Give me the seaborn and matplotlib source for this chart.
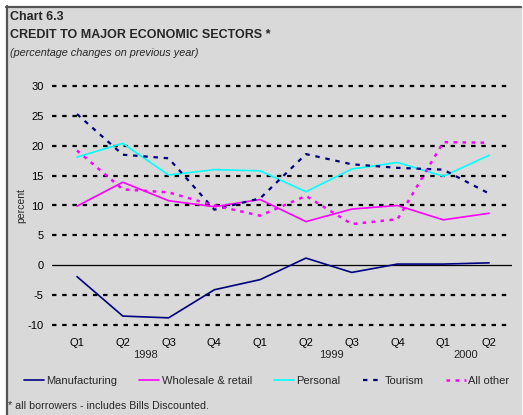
import matplotlib
matplotlib.use("Agg")
import matplotlib.pyplot as plt
from matplotlib.patches import Rectangle
from matplotlib.lines import Line2D
import seaborn as sns
import pandas as pd

# Quarterly growth of credit by sector (% change on previous year)
quarters = ["Q1", "Q2", "Q3", "Q4", "Q1", "Q2", "Q3", "Q4", "Q1", "Q2"]
years = ["1998", "1999", "2000"]
year_pos = [1.5, 5.55, 8.5]

manufacturing = [-1.9, -8.5, -8.8, -4.1, -2.4, 1.2, -1.2, 0.2, 0.2, 0.4]
wholesale = [9.9, 13.9, 10.8, 9.8, 11.0, 7.3, 9.4, 10.0, 7.6, 8.7]
personal = [18.1, 20.4, 15.1, 16.0, 15.8, 12.3, 16.1, 17.2, 14.9, 18.4]
tourism = [25.3, 18.5, 17.9, 9.3, 11.2, 18.6, 16.9, 16.3, 16.0, 12.0]
all_other = [19.2, 12.7, 12.2, 10.0, 8.3, 11.6, 6.9, 7.7, 20.6, 20.5]

series = {
    "Manufacturing": manufacturing,
    "Wholesale & retail": wholesale,
    "Personal": personal,
    "Tourism": tourism,
    "All other": all_other,
}
styles = {
    "Manufacturing": dict(color="#000080", linestyle="-", linewidth=1.2),
    "Wholesale & retail": dict(color="#ff00ff", linestyle="-", linewidth=1.2),
    "Personal": dict(color="#00ffff", linestyle="-", linewidth=1.2),
    "Tourism": dict(color="#000080", linestyle=(0, (2.0, 2.6)), linewidth=1.6),
    "All other": dict(color="#ff00ff", linestyle=(0, (1.4, 2.2)), linewidth=1.8),
}

rows = []
for name, vals in series.items():
    for i, v in enumerate(vals):
        rows.append({"idx": i, "value": v, "sector": name})
df = pd.DataFrame(rows)

sns.set_theme(style="white")
plt.rcParams["font.family"] = ["Liberation Sans", "DejaVu Sans"]

W, H = 523, 415
fig = plt.figure(figsize=(W / 100, H / 100), dpi=100)
fig.patch.set_facecolor("white")

# grey panel with a dark top/left rule
fig.patches.append(Rectangle((7 / W, 0), (W - 7) / W, (H - 7) / H,
                             transform=fig.transFigure, facecolor="#d9d9d9",
                             edgecolor="none", zorder=-10))
fig.lines.append(Line2D([6 / W, 521 / W], [1 - 7 / H, 1 - 7 / H],
                        transform=fig.transFigure, color="#555555", linewidth=1.6))
fig.lines.append(Line2D([7 / W, 7 / W], [0, 1 - 6 / H],
                        transform=fig.transFigure, color="#555555", linewidth=1.6))
fig.lines.append(Line2D([521.5 / W, 521.5 / W], [0, 1 - 8 / H],
                        transform=fig.transFigure, color="#f2f2f2", linewidth=0.8))

left, right = 52 / W, 512 / W
bottom, top = 1 - 331 / H, 1 - 80 / H
ax = fig.add_axes([left, bottom, right - left, top - bottom])
ax.set_facecolor("none")

for name in series:
    sub = df[df["sector"] == name]
    sns.lineplot(data=sub, x="idx", y="value", ax=ax, label=name,
                 legend=False, **styles[name])

ax.set_xlim(-0.546, 9.5)
ax.set_ylim(-11, 31)
ax.set_yticks(range(-10, 31, 5))
ax.set_yticklabels([str(t) for t in range(-10, 31, 5)])
ax.set_xticks(range(len(quarters)))
ax.set_xticklabels(quarters)
ax.tick_params(axis="both", length=0, labelsize=8, colors="black")
ax.tick_params(axis="y", pad=6)
ax.tick_params(axis="x", pad=5)
for s in ax.spines.values():
    s.set_visible(False)

ax.grid(axis="y", color="black", linestyle=(0, (2.0, 2.6)), linewidth=1.6)
ax.grid(axis="x", visible=False)
for tick, gl in zip(ax.get_yticks(), ax.get_ygridlines()):
    if tick == 0:
        gl.set_visible(False)
ax.axhline(0, color="black", linewidth=0.9, zorder=1)
ax.set_axisbelow(True)

ax.set_xlabel("")
ax.set_ylabel("percent", fontsize=7.5, labelpad=1)

for yr, xp in zip(years, year_pos):
    ax.annotate(yr, xy=(xp, 0), xycoords=("data", "axes fraction"),
                xytext=(0, -17.5), textcoords="offset points",
                ha="center", va="center", fontsize=8)

fig.text(10 / W, 1 - 19.5 / H, "Chart 6.3", fontsize=9, fontweight="bold",
         va="baseline", ha="left")
fig.text(10 / W, 1 - 37.5 / H, "CREDIT TO MAJOR ECONOMIC SECTORS *", fontsize=9,
         fontweight="bold", va="baseline", ha="left")
fig.text(10 / W, 1 - 56.5 / H, "(percentage changes on previous year)",
         fontsize=7.8, style="italic", va="baseline", ha="left")

handles = [Line2D([], [], **styles[n]) for n in series]
fig.legend(handles, list(series.keys()), loc="center left",
           bbox_to_anchor=(24 / W, 1 - 381 / H), ncol=5, frameon=False,
           fontsize=8, handlelength=1.8, handletextpad=0.2,
           columnspacing=2.0, borderpad=0, borderaxespad=0)

fig.text(8 / W, 1 - 409 / H, "* all borrowers - includes Bills Discounted.",
         fontsize=7.7, va="baseline", ha="left")

fig.savefig("out.png", dpi=100)
